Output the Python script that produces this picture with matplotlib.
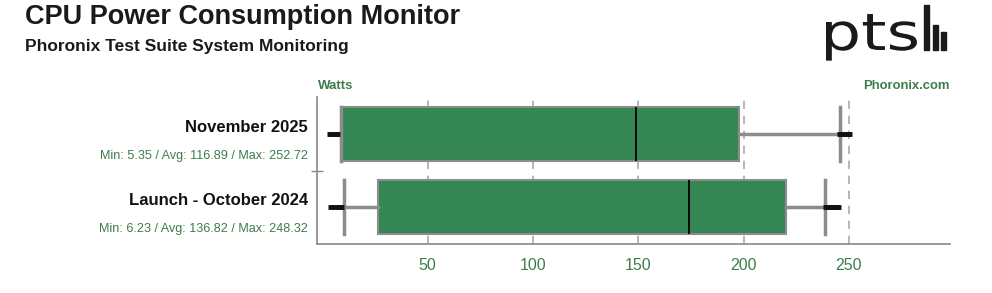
import matplotlib.pyplot as plt
from matplotlib.patches import Rectangle, PathPatch
from matplotlib.textpath import TextPath
from matplotlib.font_manager import FontProperties
from matplotlib.transforms import Affine2D

plt.rcParams['font.family'] = ['Liberation Sans', 'DejaVu Sans']

# data
labels = ['November 2025', 'Launch - October 2024']
stats_text = ['Min: 5.35 / Avg: 116.89 / Max: 252.72',
              'Min: 6.23 / Avg: 136.82 / Max: 248.32']
q1 = [9.0, 26.6]
med = [149.0, 174.0]
q3 = [198.0, 220.0]
whislo = [9.0, 10.5]
whishi = [246.0, 238.6]
fliers = [[3.0, 4.0, 5.35, 6.5, 7.5, 245.5, 246.5, 247.5, 248.5, 249.5, 250.5],
          [3.5, 4.5, 6.23, 7.5, 8.5, 9.5, 238.5, 239.5, 240.5, 241.5, 242.5, 243.5, 244.5, 245.5]]
ticks = [50, 100, 150, 200, 250]

green = '#3c7d4b'
box_green = '#348752'

fig = plt.figure(figsize=(9.92, 2.93), dpi=100)
ax = fig.add_axes([317 / 992, 1 - 244 / 293, (950 - 317) / 992, (244 - 97) / 293])

bstats = []
for i in range(len(labels)):
    bstats.append(dict(q1=q1[i], med=med[i], q3=q3[i], whislo=whislo[i],
                       whishi=whishi[i], fliers=fliers[i], label=''))

pos = [1.5, 0.5]
ax.bxp(bstats, positions=pos, vert=False, widths=0.74, patch_artist=True,
       showfliers=True,
       boxprops=dict(facecolor=box_green, edgecolor='#8c8c8c', linewidth=1.5),
       medianprops=dict(color='black', linewidth=1.3),
       whiskerprops=dict(color='#8c8c8c', linewidth=2.5),
       capprops=dict(color='#8c8c8c', linewidth=2.5),
       capwidths=0.74,
       flierprops=dict(marker='_', markersize=3, markeredgewidth=3.5,
                       markeredgecolor='#111111', linestyle='none'))

for t in ticks:
    ax.axvline(t, color='#aaaaaa', linestyle=(0, (5, 4)), linewidth=1.2, zorder=0)

ax.set_xlim(-2.5, 298)
ax.set_ylim(0, 2)
ax.set_xticks(ticks)
ax.set_xticklabels([str(t) for t in ticks], fontsize=11.5, color=green)
ax.tick_params(axis='x', length=0, pad=10)
ax.set_yticks([1])
ax.set_yticklabels([''])
ax.tick_params(axis='y', length=8, direction='inout', width=1, color='#888888')
for s in ['top', 'right']:
    ax.spines[s].set_visible(False)
for s in ['left', 'bottom']:
    ax.spines[s].set_color('#888888')
    ax.spines[s].set_linewidth(1.2)

for i, p in enumerate(pos):
    ax.text(-0.014, p + 0.09, labels[i], transform=ax.get_yaxis_transform(),
            ha='right', va='center', fontsize=12, fontweight='bold', color='#111111')
    ax.text(-0.014, p - 0.30, stats_text[i], transform=ax.get_yaxis_transform(),
            ha='right', va='center', fontsize=9.1, color=green)

fig.text(318 / 992, 1 - 86 / 293, 'Watts', ha='left', va='center',
         fontsize=9.5, fontweight='bold', color=green)
fig.text(949 / 992, 1 - 86 / 293, 'Phoronix.com', ha='right', va='center',
         fontsize=9.4, fontweight='bold', color=green)

fig.text(25 / 992, 1 - 17 / 293, 'CPU Power Consumption Monitor', ha='left',
         va='center', fontsize=19.5, fontweight='bold', color='#1a1a1a')
fig.text(25 / 992, 1 - 47 / 293, 'Phoronix Test Suite System Monitoring', ha='left',
         va='center', fontsize=12.5, fontweight='bold', color='#1a1a1a')

# pts logo (pixel coordinates, y measured from the top)
H = 293
tp = TextPath((0, 0), 'pts', size=1, prop=FontProperties(family='DejaVu Sans'))
ext = tp.get_extents()
sx = (917 - 826) / ext.width
sy = 28 / 0.547
tr = Affine2D().translate(-ext.x0, 0).scale(sx, sy).translate(826, H - 50)
fig.patches.append(PathPatch(tr.transform_path(tp), facecolor='#1a1a1a',
                             edgecolor='none', transform=None))
for x0, top in [(924, 5), (933, 25), (941, 32)]:
    fig.patches.append(Rectangle((x0, H - 50), 4.5, 50 - top, transform=None,
                                 color='#1a1a1a'))

fig.savefig('out.png', dpi=100)
